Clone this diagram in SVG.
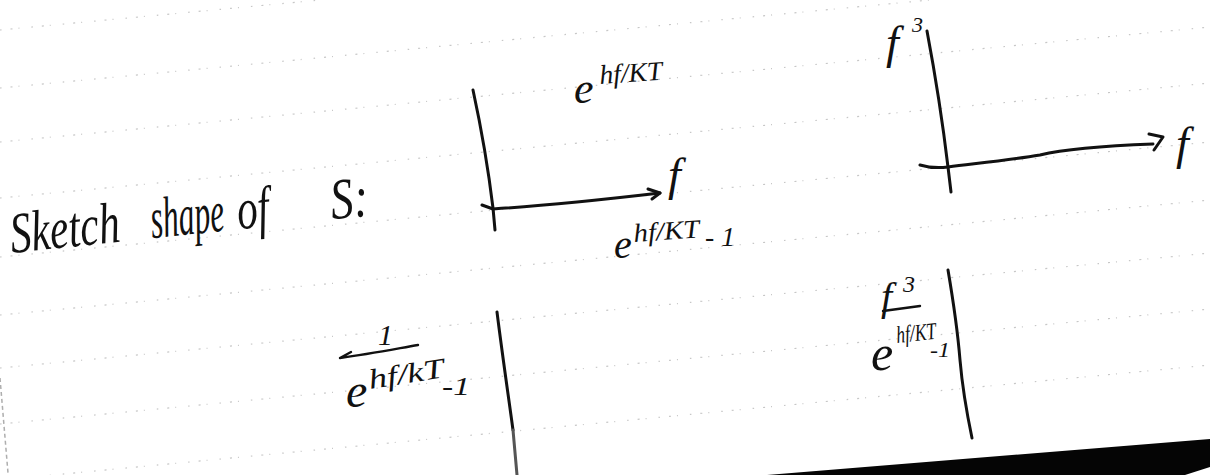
<svg xmlns="http://www.w3.org/2000/svg" width="1210" height="475" viewBox="0 0 1210 475">
  <style>
    .ink { fill: none; stroke: #111; stroke-width: 3; stroke-linecap: round; stroke-linejoin: round; }
    .ink-thin { fill: none; stroke: #111; stroke-width: 2.4; stroke-linecap: round; stroke-linejoin: round; }
    .hand { font-family: "Liberation Serif", "DejaVu Serif", serif; font-style: italic; fill: #111; }
    .rule { fill: none; stroke: #909090; stroke-width: 1.2; stroke-dasharray: 1.5 9 2 6 1 12; opacity: 0.5; }
  </style>

  <!-- paper -->
  <rect x="0" y="0" width="1210" height="475" fill="#ffffff"/>

  <!-- faint ruled notebook lines, slanted with the page -->
  <g id="ruled-lines">
    <line class="rule" x1="0" y1="30" x2="320" y2="0"/>
    <line class="rule" x1="0" y1="88" x2="930" y2="0"/>
    <line class="rule" x1="0" y1="142" x2="1210" y2="27"/>
    <line class="rule" x1="0" y1="198" x2="1210" y2="83"/>
    <line class="rule" x1="0" y1="257" x2="1210" y2="142"/>
    <line class="rule" x1="0" y1="315" x2="1210" y2="200"/>
    <line class="rule" x1="0" y1="368" x2="1210" y2="253"/>
    <line class="rule" x1="0" y1="424" x2="1210" y2="309"/>
    <line class="rule" x1="0" y1="480" x2="1210" y2="365"/>
    <!-- left margin trace -->
    <line x1="0" y1="378" x2="8" y2="473" stroke="#9a9a9a" stroke-width="1.5" stroke-dasharray="4 3" opacity="0.8"/>
  </g>

  <!-- heading -->
  <g id="heading" transform="rotate(-6 12 253)">
    <text class="hand" x="12" y="253" font-size="58" textLength="110" lengthAdjust="spacingAndGlyphs">Sketch</text>
    <text class="hand" x="153" y="253" font-size="58" textLength="74" lengthAdjust="spacingAndGlyphs">shape</text>
    <text class="hand" x="240" y="253" font-size="58" textLength="32" lengthAdjust="spacingAndGlyphs">of</text>
    <text class="hand" x="334" y="253" font-size="58" textLength="38" lengthAdjust="spacingAndGlyphs">S:</text>
  </g>

  <!-- sketch 1: exponential e^(hf/kT) against f -->
  <g id="plot-exponential">
    <path class="ink" d="M473,90 Q486,150 493,208 L495,230"/>
    <path class="ink" d="M482,205 L493,209 C540,206 600,200 660,193"/>
    <path class="ink" d="M648,189 L660,193 L652,199"/>
    <text class="hand" x="668" y="190" font-size="46">f</text>
    <text class="hand" x="574" y="103" font-size="44">e</text>
    <text class="hand" x="600" y="84" font-size="27" textLength="63" lengthAdjust="spacingAndGlyphs" transform="rotate(-4 600 84)">hf/KT</text>
    <!-- denominator written under the arrow -->
    <text class="hand" x="614" y="258" font-size="40">e</text>
    <text class="hand" x="634" y="242" font-size="26" textLength="66" lengthAdjust="spacingAndGlyphs" transform="rotate(-4 634 242)">hf/KT</text>
    <text class="hand" x="705" y="246" font-size="28" textLength="30" lengthAdjust="spacingAndGlyphs">- 1</text>
  </g>

  <!-- sketch 2: f^3 against f -->
  <g id="plot-cubic">
    <path class="ink" d="M927,31 Q940,100 948,167 L951,192"/>
    <path class="ink" d="M920,165 C930,168 940,168 948,167 C980,163 1010,160 1040,155 C1065,149 1100,146 1153,144"/>
    <path class="ink" d="M1149,134 L1163,137 L1154,150"/>
    <text class="hand" x="886" y="58" font-size="46">f</text>
    <text class="hand" x="912" y="32" font-size="22">3</text>
    <text class="hand" x="1176" y="159" font-size="46">f</text>
  </g>

  <!-- sketch 3: 1/(e^(hf/kT)-1) -->
  <g id="plot-bose">
    <path class="ink" d="M497,312 C503,360 509,400 513,430"/>
    <path d="M513,430 L517,475" fill="none" stroke="#555" stroke-width="3" stroke-linecap="round"/>
    <text class="hand" x="378" y="345" font-size="30">1</text>
    <path class="ink-thin" d="M418,345 C395,349 370,354 340,358 M340,358 L351,352"/>
    <text class="hand" x="346" y="407" font-size="48">e</text>
    <text class="hand" x="370" y="389" font-size="28" textLength="76" lengthAdjust="spacingAndGlyphs" transform="rotate(-9 370 389)">hf/kT</text>
    <text class="hand" x="442" y="395" font-size="26" textLength="28" lengthAdjust="spacingAndGlyphs">-1</text>
  </g>

  <!-- sketch 4: f^3/(e^(hf/kT)-1) -->
  <g id="plot-planck">
    <path class="ink" d="M948,270 Q957,323 960,360 Q963,395 972,438"/>
    <text class="hand" x="881" y="310" font-size="40">f</text>
    <text class="hand" x="903" y="292" font-size="24">3</text>
    <path class="ink-thin" d="M883,311 L920,306"/>
    <text class="hand" x="871" y="370" font-size="50">e</text>
    <text class="hand" x="897" y="343" font-size="24" textLength="40" lengthAdjust="spacingAndGlyphs" transform="rotate(-6 897 343)">hf/KT</text>
    <text class="hand" x="930" y="357" font-size="22" textLength="20" lengthAdjust="spacingAndGlyphs">-1</text>
  </g>

  <!-- dark scanner edge at bottom right -->
  <polygon id="scan-edge" points="767,475 1210,439 1210,467 1185,475" fill="#050505"/>
</svg>
